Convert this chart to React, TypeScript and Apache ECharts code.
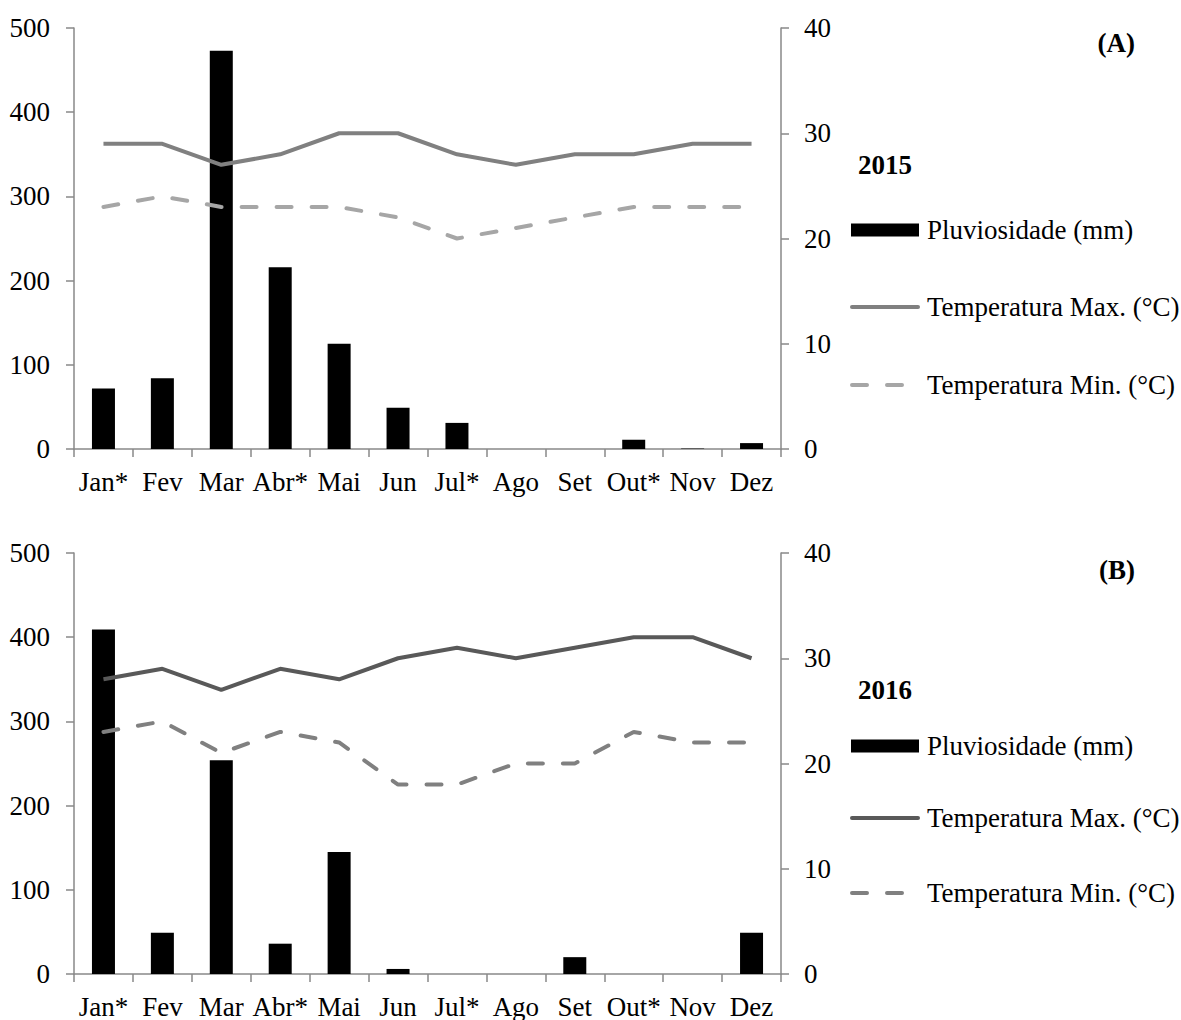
import React, { useEffect, useRef } from "react";
import * as echarts from "echarts";

const months = ["Jan*", "Fev", "Mar", "Abr*", "Mai", "Jun", "Jul*", "Ago", "Set", "Out*", "Nov", "Dez"];
const leftTicks = [0, 100, 200, 300, 400, 500];
const rightTicks = [0, 10, 20, 30, 40];
const seriesNames = ["Pluviosidade (mm)", "Temperatura Max. (°C)", "Temperatura Min. (°C)"];

const rain2015 = [72, 84, 473, 216, 125, 49, 31, 0, 0, 11, 0.5, 7];
const tmax2015 = [29, 29, 27, 28, 30, 30, 28, 27, 28, 28, 29, 29];
const tmin2015 = [23, 24, 23, 23, 23, 22, 20, 21, 22, 23, 23, 23];

const rain2016 = [409, 49, 254, 36, 145, 6, 0, 0, 20, 0, 0, 49];
const tmax2016 = [28, 29, 27, 29, 28, 30, 31, 30, 31, 32, 32, 30];
const tmin2016 = [23, 24, 21, 23, 22, 18, 18, 20, 20, 23, 22, 22];

const FONT = "'Liberation Serif', 'Times New Roman', serif";
const AXIS = "#898989";
const FS = 27;
const DASH = [15, 20];

type Props = {
  rain: number[];
  tmax: number[];
  tmin: number[];
  maxColor: string;
  minColor: string;
  year: string;
  panel: string;
  height: number;
  gridTop: number;
  gridHeight: number;
  legendY: number[];
  yearY: number;
  panelY: number;
};

function Chart(p: Props) {
  const ref = useRef<HTMLDivElement>(null);
  useEffect(() => {
    if (!ref.current) return;
    const chart = echarts.init(ref.current, undefined, { renderer: "svg" });
    const axisCommon = {
      axisLine: { show: true, lineStyle: { color: AXIS, width: 1.5 } },
      axisTick: { show: true, length: 8, lineStyle: { color: AXIS, width: 1.5 } },
      splitLine: { show: false },
      axisLabel: { color: "#000", fontFamily: FONT, fontSize: FS },
    };
    const textStyle = { fontFamily: FONT, fontSize: FS, fill: "#000" };
    const [y0, y1, y2] = p.legendY;
    chart.setOption({
      animation: false,
      backgroundColor: "#fff",
      grid: { left: 74, width: 707, top: p.gridTop, height: p.gridHeight, containLabel: false },
      xAxis: {
        type: "category",
        data: months,
        ...axisCommon,
        axisLabel: { ...axisCommon.axisLabel, margin: 19, interval: 0 },
      },
      yAxis: [
        {
          type: "value",
          min: leftTicks[0],
          max: leftTicks[leftTicks.length - 1],
          interval: leftTicks[1] - leftTicks[0],
          position: "left",
          ...axisCommon,
          axisLabel: { ...axisCommon.axisLabel, margin: 24 },
        },
        {
          type: "value",
          min: rightTicks[0],
          max: rightTicks[rightTicks.length - 1],
          interval: rightTicks[1] - rightTicks[0],
          position: "right",
          ...axisCommon,
          axisLabel: { ...axisCommon.axisLabel, margin: 23 },
        },
      ],
      graphic: [
        {
          type: "text",
          x: 858,
          y: p.yearY,
          style: { ...textStyle, text: p.year, fontWeight: "bold", verticalAlign: "middle" },
        },
        {
          type: "text",
          x: 1135,
          y: p.panelY,
          style: { ...textStyle, text: p.panel, fontWeight: "bold", align: "right", verticalAlign: "middle" },
        },
        { type: "rect", shape: { x: 851, y: y0 - 6.5, width: 68, height: 13 }, style: { fill: "#000" } },
        {
          type: "line",
          shape: { x1: 852, y1: y1, x2: 918, y2: y1 },
          style: { stroke: p.maxColor, lineWidth: 4, lineCap: "round" },
        },
        {
          type: "line",
          shape: { x1: 852, y1: y2, x2: 922, y2: y2 },
          style: { stroke: p.minColor, lineWidth: 4, lineCap: "round", lineDash: DASH },
        },
        { type: "text", x: 927, y: y0, style: { ...textStyle, text: seriesNames[0], verticalAlign: "middle" } },
        { type: "text", x: 927, y: y1, style: { ...textStyle, text: seriesNames[1], verticalAlign: "middle" } },
        { type: "text", x: 927, y: y2, style: { ...textStyle, text: seriesNames[2], verticalAlign: "middle" } },
      ],
      series: [
        {
          name: seriesNames[0],
          type: "bar",
          data: p.rain,
          barWidth: 23,
          itemStyle: { color: "#000" },
          yAxisIndex: 0,
        },
        {
          name: seriesNames[1],
          type: "line",
          data: p.tmax,
          yAxisIndex: 1,
          symbol: "none",
          lineStyle: { color: p.maxColor, width: 4 },
          itemStyle: { color: p.maxColor },
        },
        {
          name: seriesNames[2],
          type: "line",
          data: p.tmin,
          yAxisIndex: 1,
          symbol: "none",
          lineStyle: { color: p.minColor, width: 4, type: DASH, cap: "round" },
          itemStyle: { color: p.minColor },
        },
      ],
    });
    return () => chart.dispose();
  }, []);
  return <div ref={ref} style={{ width: 1181, height: p.height }} />;
}

export default function App() {
  return (
    <div style={{ position: "absolute", left: 0, top: 0, width: 1181, height: 1020, background: "#fff" }}>
      <Chart
        rain={rain2015}
        tmax={tmax2015}
        tmin={tmin2015}
        maxColor="#808080"
        minColor="#a6a6a6"
        year="2015"
        panel="(A)"
        height={520}
        gridTop={28}
        gridHeight={421}
        legendY={[230, 307, 385]}
        yearY={165}
        panelY={43}
      />
      <Chart
        rain={rain2016}
        tmax={tmax2016}
        tmin={tmin2016}
        maxColor="#595959"
        minColor="#808080"
        year="2016"
        panel="(B)"
        height={500}
        gridTop={33}
        gridHeight={423}
        legendY={[226, 298, 373]}
        yearY={170}
        panelY={50}
      />
    </div>
  );
}
